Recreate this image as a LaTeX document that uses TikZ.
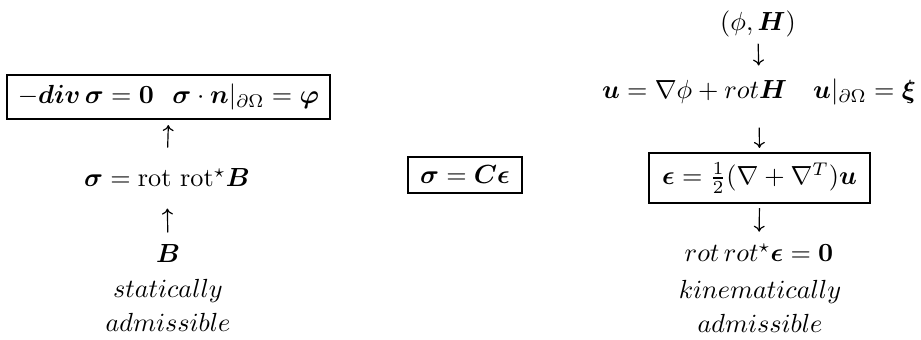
\documentclass[tikz,border=0pt]{standalone}
\usepackage{amsmath,amssymb,bm}
\usetikzlibrary{arrows.meta}
\def\pxu{0.3816}
\begin{document}
\begin{tikzpicture}[x=\pxu pt,y=-\pxu pt,
  eq/.style={inner sep=0pt},
  eqbox/.style={draw,line width=0.8pt,inner sep=0pt},
  arr/.style={line width=0.45pt,-{Computer Modern Rightarrow[length=2.3pt,width=4.2pt]}}]
\useasboundingbox (0,0) rectangle (921,340);
% left column
\node[eqbox,minimum width=323*\pxu pt,minimum height=44*\pxu pt] (sbox) at (168.5,97)
  {$-\bm{div}\,\bm\sigma=\bm0\hspace{7pt} \bm\sigma\cdot\bm n|_{\partial\Omega}=\bm\varphi$};
\node[eq,anchor=base] (srot) at (167,187) {$\bm\sigma=\mathrm{rot}\ \mathrm{rot}^\star\bm B$};
\node[eq,anchor=base] (B) at (168,263) {$\bm B$};
\node[eq,anchor=base] (stat) at (168,298) {$statically$};
\node[eq,anchor=base] (adm1) at (168,332) {$admissible$};
% middle
\node[eqbox,minimum width=114*\pxu pt,minimum height=36*\pxu pt] (cbox) at (465,175)
  {$\bm\sigma=\bm C\bm\epsilon$};
% right column
\node[eq,anchor=base] (phiH) at (758,30.5) {$(\phi,\bm H)$};
\node[eq,anchor=base] (uline) at (759,99)
  {$\bm u=\nabla\phi+rot\bm H\quad \bm u|_{\partial\Omega}=\bm\xi$};
\node[eqbox,minimum width=221*\pxu pt,minimum height=50*\pxu pt] (ebox) at (759.5,178)
  {$\bm\epsilon=\frac12(\nabla+\nabla^T)\bm u$};
\node[eq,anchor=base] (rr) at (759,262) {$rot\,rot^\star\bm\epsilon=\bm0$};
\node[eq,anchor=base] (kin) at (760,299) {$kinematically$};
\node[eq,anchor=base] (adm2) at (760,333) {$admissible$};
% connectors
\draw[arr,shorten <=20.7*\pxu pt,shorten >=5*\pxu pt] (srot.north) -- (sbox.south);
\draw[arr,shorten <=12*\pxu pt,shorten >=21*\pxu pt] (B.north) -- (srot.south);
\draw[arr,shorten <=6*\pxu pt,shorten >=13.3*\pxu pt] (phiH.south) -- (uline.north);
\draw[arr,shorten <=21.5*\pxu pt,shorten >=4*\pxu pt] (uline.south) -- (ebox.north);
\draw[arr,shorten <=4*\pxu pt,shorten >=11.7*\pxu pt] (ebox.south) -- (rr.north);
\end{tikzpicture}
\end{document}
